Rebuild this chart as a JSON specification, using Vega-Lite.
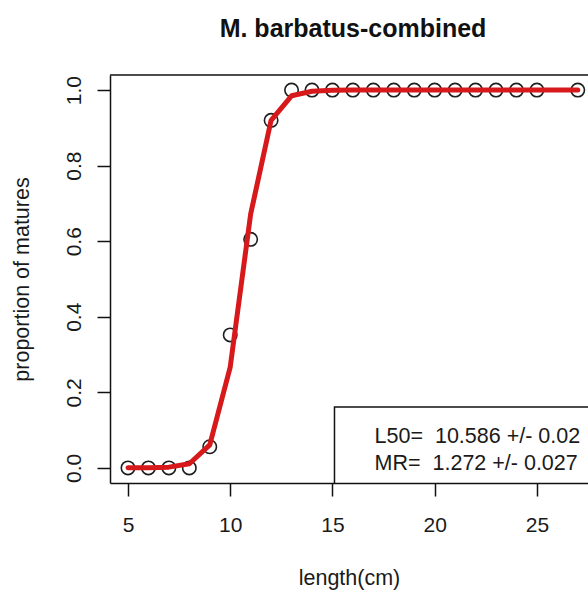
{
  "$schema": "https://vega.github.io/schema/vega-lite/v6.json",
  "autosize": "none",
  "width": 478,
  "height": 408,
  "padding": {"left": 110, "top": 75, "right": 0, "bottom": 107},
  "background": "white",
  "title": {
    "text": "M. barbatus-combined",
    "font": "Liberation Sans",
    "fontSize": 25,
    "fontWeight": "bold",
    "color": "#111111",
    "anchor": "middle",
    "frame": "group",
    "baseline": "alphabetic",
    "offset": 12,
    "dx": 4
  },
  "data": {
    "values": [
      {"length": 5, "prop": 0, "fit": 0.0001},
      {"length": 6, "prop": 0, "fit": 0.0004},
      {"length": 7, "prop": 0, "fit": 0.002},
      {"length": 8, "prop": 0, "fit": 0.011},
      {"length": 9, "prop": 0.056, "fit": 0.061},
      {"length": 10, "prop": 0.352, "fit": 0.267},
      {"length": 11, "prop": 0.605, "fit": 0.672},
      {"length": 12, "prop": 0.92, "fit": 0.92},
      {"length": 13, "prop": 1, "fit": 0.985},
      {"length": 14, "prop": 1, "fit": 0.997},
      {"length": 15, "prop": 1, "fit": 0.9995},
      {"length": 16, "prop": 1, "fit": 1},
      {"length": 17, "prop": 1, "fit": 1},
      {"length": 18, "prop": 1, "fit": 1},
      {"length": 19, "prop": 1, "fit": 1},
      {"length": 20, "prop": 1, "fit": 1},
      {"length": 21, "prop": 1, "fit": 1},
      {"length": 22, "prop": 1, "fit": 1},
      {"length": 23, "prop": 1, "fit": 1},
      {"length": 24, "prop": 1, "fit": 1},
      {"length": 25, "prop": 1, "fit": 1},
      {"length": 27, "prop": 1, "fit": 1}
    ]
  },
  "layer": [
    {
      "data": {"values": [{"item": "legend box"}]},
      "mark": {"type": "rect", "fill": null, "stroke": "#111111", "strokeWidth": 1.5, "clip": true},
      "encoding": {
        "x": {"datum": 15.1, "type": "quantitative"},
        "x2": {"datum": 40},
        "y": {"datum": 0.161, "type": "quantitative"},
        "y2": {"datum": -0.2}
      }
    },
    {
      "mark": {"type": "point", "shape": "circle", "filled": false, "size": 180, "stroke": "#1e1e1e", "strokeWidth": 1.6, "opacity": 1},
      "encoding": {
        "x": {
          "field": "length", "type": "quantitative",
          "scale": {"domain": [4.12, 27.5], "nice": false, "zero": false},
          "axis": {
            "title": "length(cm)",
            "values": [5, 10, 15, 20, 25],
            "labelBaseline": "alphabetic",
            "labelPadding": 35,
            "titlePadding": 32
          }
        },
        "y": {
          "field": "prop", "type": "quantitative",
          "scale": {"domain": [-0.04, 1.04], "nice": false, "zero": false},
          "axis": {
            "title": "proportion of matures",
            "values": [0, 0.2, 0.4, 0.6, 0.8, 1.0],
            "format": ".1f",
            "labelAngle": -90,
            "labelAlign": "center",
            "labelBaseline": "alphabetic",
            "labelPadding": 17,
            "titlePadding": 30
          }
        }
      }
    },
    {
      "mark": {"type": "line", "color": "#d7191c", "strokeWidth": 5, "strokeJoin": "round", "strokeCap": "round"},
      "encoding": {
        "x": {"field": "length", "type": "quantitative"},
        "y": {"field": "fit", "type": "quantitative"}
      }
    },
    {
      "data": {"values": [{"item": "top border"}]},
      "mark": {"type": "rule", "color": "#111111", "strokeWidth": 1.5},
      "encoding": {
        "y": {"datum": 1.04, "type": "quantitative"}
      }
    },
    {
      "data": {"values": [{"item": "legend text"}]},
      "mark": {
        "type": "text",
        "text": ["L50=\u00a0\u00a010.586 +/- 0.02", "MR=\u00a0\u00a01.272 +/- 0.027"],
        "align": "left",
        "baseline": "alphabetic",
        "lineHeight": 27,
        "font": "Liberation Sans",
        "fontSize": 21.5,
        "color": "#1a1a1a"
      },
      "encoding": {
        "x": {"datum": 17.06, "type": "quantitative"},
        "y": {"datum": 0.066, "type": "quantitative"}
      }
    }
  ],
  "config": {
    "view": {"stroke": null},
    "axis": {
      "grid": false,
      "domainColor": "#111111",
      "domainWidth": 1.5,
      "tickColor": "#111111",
      "tickWidth": 1.5,
      "tickSize": 13,
      "labelFont": "Liberation Sans",
      "labelFontSize": 21,
      "labelColor": "#1a1a1a",
      "titleFont": "Liberation Sans",
      "titleFontSize": 21.5,
      "titleFontWeight": "normal",
      "titleColor": "#1a1a1a",
      "labelOverlap": false,
      "labelFlush": false
    }
  }
}
